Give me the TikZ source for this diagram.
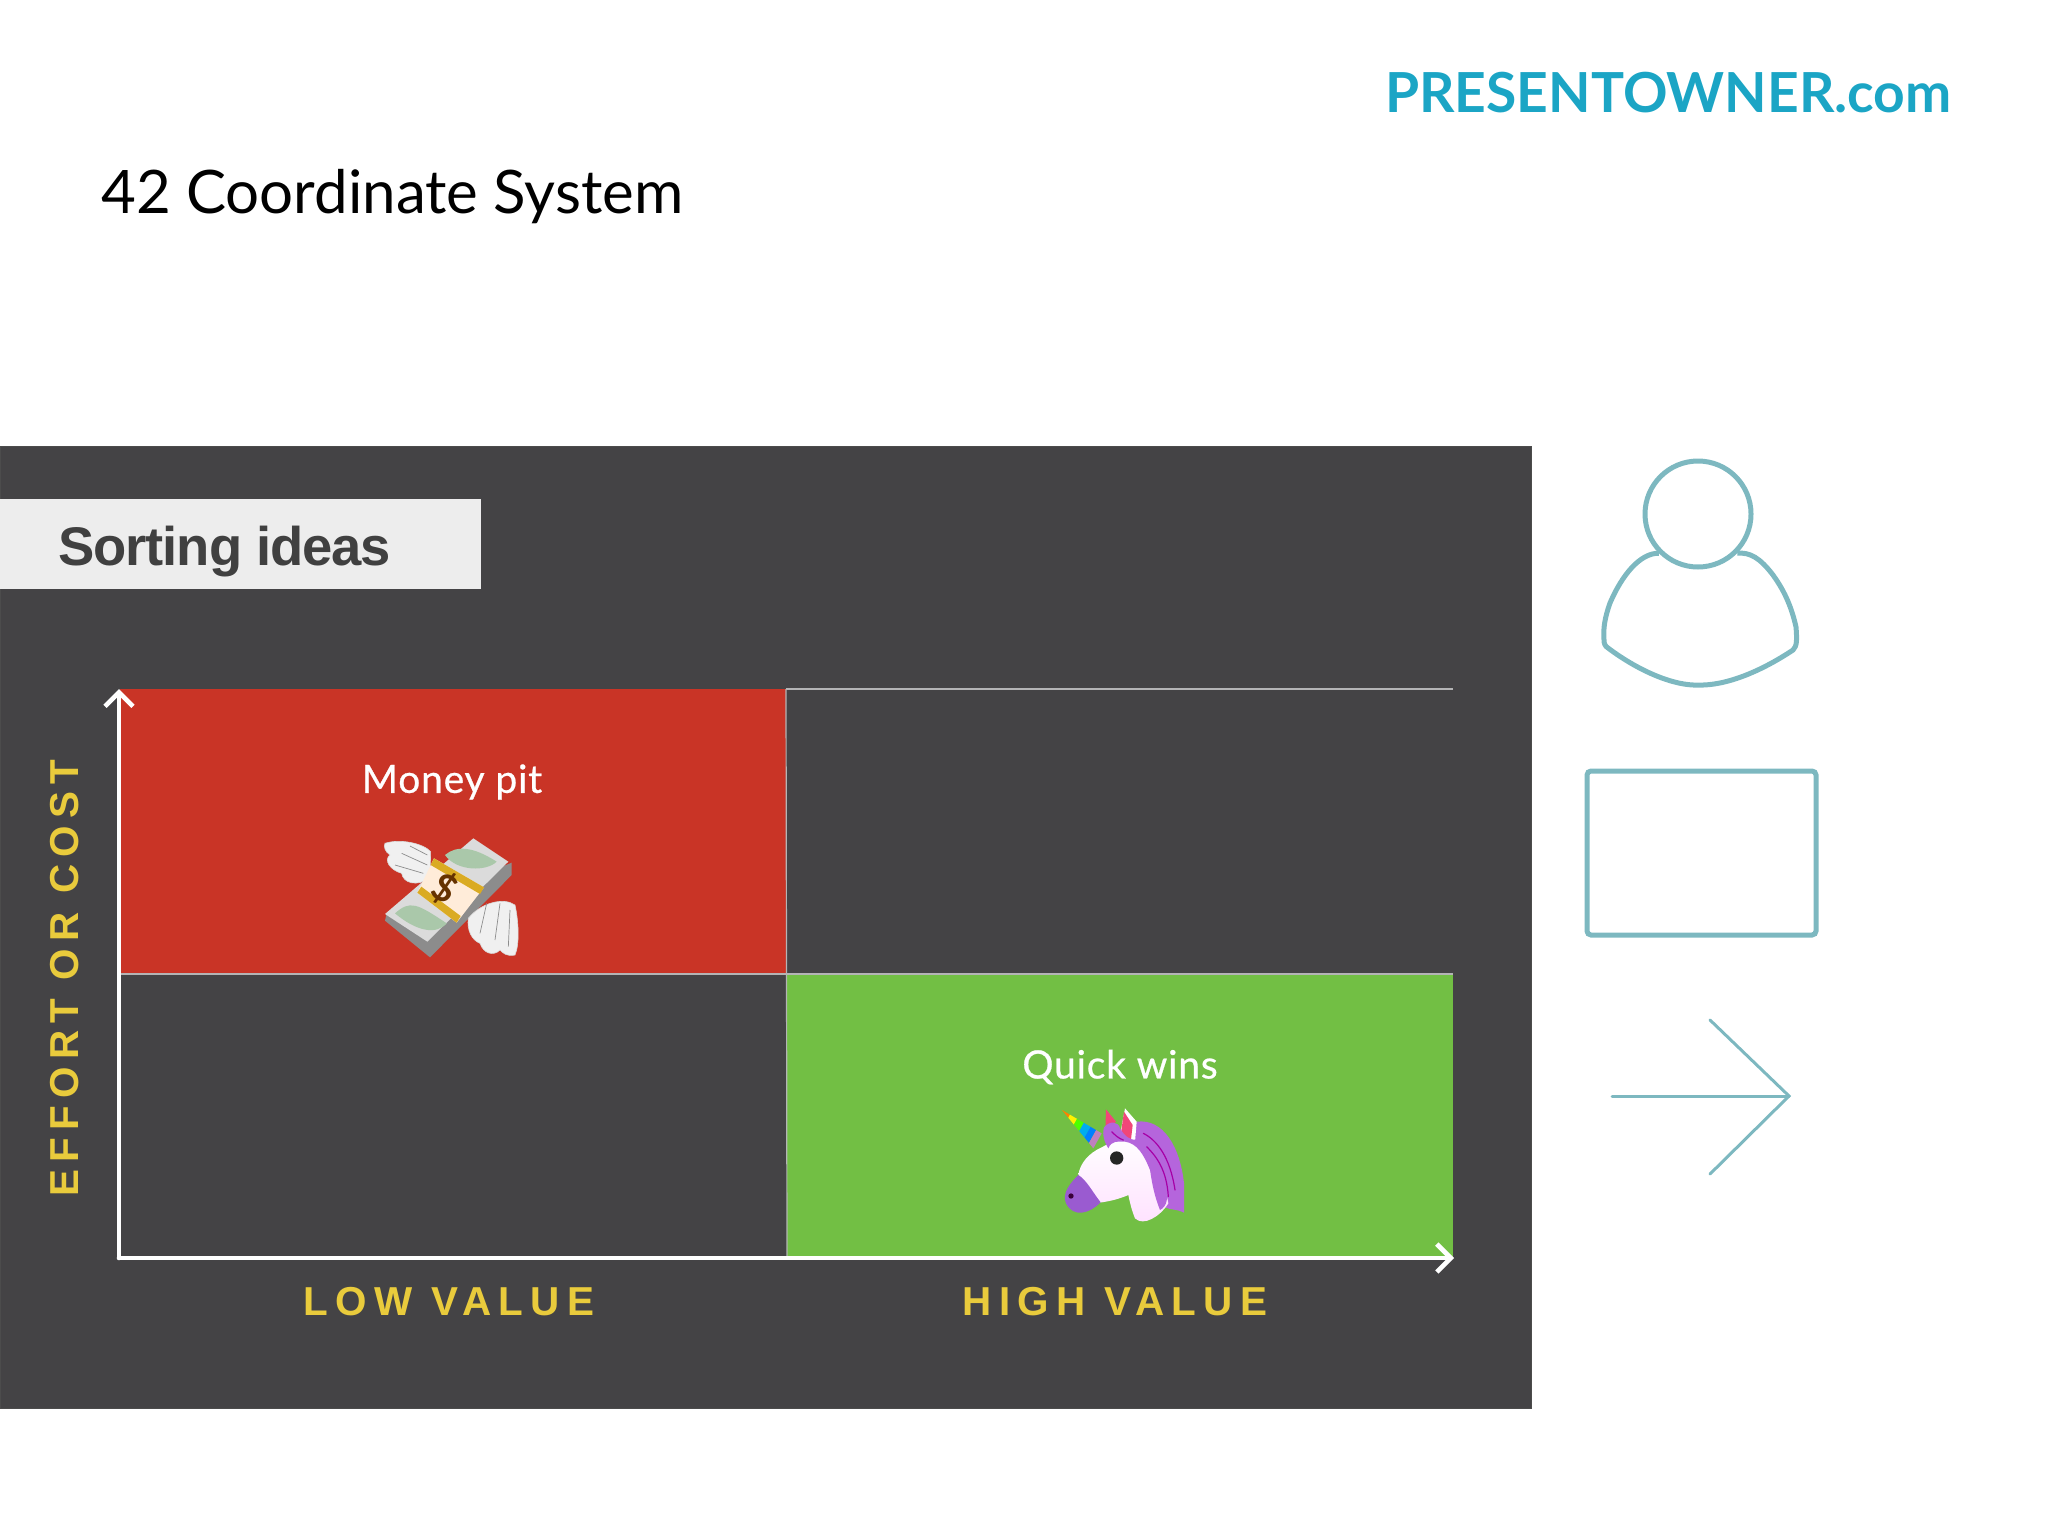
\documentclass[tikz,border=0pt]{standalone}
\usepackage{xcolor}
\usepackage{fontspec}
\usepackage{tikz}
\usetikzlibrary{arrows.meta, positioning, calc}
\setmainfont{Lato}
\newfontfamily\panelfont{Liberation Sans}[LetterSpace=-2]
\newfontfamily\axisfont{Liberation Sans}[LetterSpace=18]
\newfontfamily\cellfont{Lato}[FakeBold=0.6, LetterSpace=2]
\definecolor{panelgray}{HTML}{444345}
\definecolor{cellred}{HTML}{C93426}
\definecolor{cellgreen}{HTML}{72BF44}
\definecolor{axisyellow}{HTML}{E9CB3C}
\definecolor{iconteal}{HTML}{7DB8C0}
\definecolor{brandblue}{HTML}{1BA5C5}
\definecolor{manepurple}{HTML}{B565DC}
\definecolor{snoutpurple}{HTML}{9A5BD0}

\begin{document}
\begin{tikzpicture}[x=0.5pt, y=-0.5pt,
    cell/.style={anchor=north west, minimum width=333pt, inner sep=0pt, outer sep=0pt},
    axislbl/.style={font=\axisfont\bfseries\fontsize{20.2}{22}\selectfont, text=axisyellow},
    celllbl/.style={font=\cellfont\fontsize{19.5}{21}\selectfont, text=white},
    axisline/.style={white, line width=2.3pt, line cap=round, -{Straight Barb[length=7pt, width=14pt, line width=2.3pt]}},
    gridline/.style={line width=0.6pt, draw=white!60!panelgray},
    icon/.style={draw=iconteal, line width=2.5pt},
    thinicon/.style={draw=iconteal, line width=1.5pt, line cap=round},
    wing/.style={fill=white!88!gray, draw=white!70!gray, line width=0.3pt},
    feather/.style={draw=black!45, line width=0.35pt},
    manestreak/.style={draw=violet!70!magenta, line width=0.6pt, line cap=round}]
  \useasboundingbox (0,0) rectangle (2048,1536);
  % page texts
  \node[anchor=east, font=\bfseries\fontsize{27.6}{29}\selectfont, text=brandblue, inner sep=0pt] (brand) at (1952,93) {PRESENTOWNER.com};
  \node[anchor=west, font=\fontsize{30}{33}\selectfont, text=black, inner sep=0pt] (title) at (101,197) {42 Coordinate System};
  % slide
  \node[anchor=north west, fill=panelgray, draw=black!70, line width=0.5pt, minimum width=765.5pt, minimum height=481pt, inner sep=0pt] (slide) at (0,446) {};
  \node[anchor=north west, fill=white!93!black, minimum width=240.5pt, minimum height=45pt, inner sep=0pt] (heading) at (0,499) {};
  \node[anchor=west, font=\panelfont\bfseries\fontsize{27.2}{29}\selectfont, text=black!75, inner sep=0pt] (headingtext) at (58,552) {Sorting ideas};
  \node[cell, fill=cellred, minimum height=142.5pt] (pit) at (120,689) {};
  \node[cell, fill=cellgreen, minimum height=141.5pt] (wins) at (787,974) {};
  \coordinate (origin) at (119,1258);
  \coordinate (ytop) at (119,689);
  \coordinate (xend) at (1454,1258);
  \draw[gridline] (pit.north east) -- (wins.north east |- pit.north);
  \draw[gridline] (pit.south west) -- (wins.north east);
  \draw[gridline] (pit.north east) -- (wins.south west);
  \draw[axisline] (origin) -- (ytop);
  \draw[axisline] (origin) -- (xend);
  \node[axislbl] (low) at (449,1302) {LOW VALUE};
  \node[axislbl] (high) at (1115,1302) {HIGH VALUE};
  \node[axislbl, rotate=90] (effort) at (65,978) {EFFORT OR COST};
  \node[celllbl] (pitlbl) at (452,782) {Money pit};
  \node[celllbl] (winslbl) at (1120,1067) {Quick wins};
  % flying money
  \begin{scope}[shift={(340,740)}, scale=1/3]
    \fill[black!45] (140,520) -- (135,542) -- (270,652) -- (515,405) -- (515,368) -- cycle;
    \fill[white!72!gray] (135,522) -- (262,605) -- (505,365) -- (400,295) -- cycle;
    \fill[green!22!gray!55!white] (315,345) .. controls (350,315) and (400,320) .. (470,365) .. controls (440,395) and (350,395) .. cycle;
    \fill[green!22!gray!55!white] (165,520) .. controls (210,480) and (230,490) .. (320,550) .. controls (290,585) and (230,575) .. cycle;
    \path[wing] (135,310) .. controls (180,295) and (250,310) .. (272,335) -- (270,415) .. controls (230,440) and (190,430) .. (185,400) .. controls (150,390) and (130,360) .. (150,345) .. controls (135,335) and (130,320) .. cycle;
    \path[wing] (385,535) .. controls (420,490) and (490,470) .. (525,495) .. controls (535,540) and (540,610) .. (525,645) .. controls (500,650) and (490,640) .. (480,630) .. controls (460,650) and (430,640) .. (420,610) .. controls (395,600) and (380,570) .. cycle;
    \draw[feather] (185,340) -- (262,375) (165,375) -- (250,400) (210,318) -- (262,345);
    \draw[feather] (440,490) -- (420,580) (480,490) -- (465,600) (510,510) -- (505,620);
    \fill[white!85!orange] (282,355) -- (432,442) -- (350,548) -- (232,458) -- cycle;
    \fill[yellow!50!orange!85!black] (282,355) -- (432,442) -- (420,462) -- (272,375) -- cycle;
    \fill[yellow!50!orange!85!black] (232,458) -- (350,548) -- (362,528) -- (244,440) -- cycle;
    \node[font=\bfseries\fontsize{19}{21}\selectfont, text=black!60!orange, rotate=-30, inner sep=0pt] (dollar) at (315,445) {\$};
  \end{scope}
  % unicorn
  \begin{scope}[shift={(1030,1040)}, scale=1/3]
    \coordinate (horntip) at (96,210);
    \coordinate (hornup) at (215,280);
    \coordinate (horndown) at (190,325);
    \foreach \hue/\from/\to in {orange/0/0.2, yellow/0.2/0.38, green!70!yellow/0.38/0.55, cyan/0.55/0.72, blue!50!cyan/0.72/0.86, violet!50!white/0.86/1} {
      \fill[\hue] ($(horntip)!\from!(hornup)$) -- ($(horntip)!\to!(hornup)$) -- ($(horntip)!\to!(horndown)$) -- ($(horntip)!\from!(horndown)$) -- cycle;
    }
    \fill[manepurple] (320,245) .. controls (400,235) and (450,320) .. (462,430) -- (462,518) .. controls (430,500) and (400,520) .. (380,470) -- (300,310) -- cycle;
    \shade[top color=white, bottom color=white!88!magenta] (215,322) .. controls (280,285) and (330,290) .. (360,380) .. controls (380,420) and (410,450) .. (415,490) .. controls (390,530) and (340,560) .. (315,535) .. controls (305,510) and (300,490) .. (295,465) .. controls (260,480) and (230,485) .. (208,488) -- (145,405) .. controls (150,370) and (175,340) .. cycle;
    \fill[snoutpurple] (145,405) .. controls (170,420) and (190,460) .. (212,487) .. controls (180,520) and (130,535) .. (108,490) .. controls (95,460) and (120,430) .. cycle;
    \fill[white] (285,205) -- (320,245) -- (315,305) -- (268,295) -- cycle;
    \fill[magenta!55!red!75!white] (282,215) -- (308,255) -- (303,298) -- (272,285) -- cycle;
    \fill[magenta!55!red!75!white] (228,208) -- (258,245) -- (226,270) -- cycle;
    \fill[manepurple] (222,262) .. controls (240,240) and (265,245) .. (270,265) .. controls (285,290) and (300,300) .. (320,300) .. controls (350,340) and (400,370) .. (400,440) .. controls (420,470) and (410,500) .. (390,510) .. controls (370,460) and (365,420) .. (360,390) .. controls (340,340) and (320,310) .. (285,305) .. controls (265,305) and (245,300) .. (235,325) .. controls (225,310) and (215,285) .. cycle;
    \draw[manestreak] (340,280) .. controls (380,300) and (420,350) .. (435,450);
    \draw[manestreak] (350,320) .. controls (380,350) and (410,390) .. (415,470);
    \draw[manestreak] (245,275) .. controls (255,285) and (265,295) .. (280,300);
    \fill[black!85] (260,354) circle (20);
    \fill[black!55!violet] (123,468) circle (8);
  \end{scope}
  % icons
  \node[circle, icon, minimum size=53pt, inner sep=0pt] (head) at (1698,514) {};
  \draw[icon, line join=round] (head.south west) .. controls (1640,553) and (1622,575) .. (1610,603) .. controls (1605,617) and (1603,628) .. (1604,640) .. controls (1604,644) and (1605,646) .. (1608,648) .. controls (1640,672) and (1675,686) .. (1698,685) .. controls (1725,686) and (1760,672) .. (1793,650) .. controls (1797,646) and (1797,640) .. (1796,627) .. controls (1790,600) and (1780,585) .. (1773,575) .. controls (1760,558) and (1750,552) .. (head.south east);
  \node[anchor=north west, icon, rounded corners=2pt, minimum width=114.5pt, minimum height=82pt, inner sep=0pt] (frame) at (1584.5,768.5) {};
  \coordinate (shaftstart) at (1612,1096);
  \coordinate (arrowtip) at (1789,1096);
  \coordinate (barbtop) at (1710,1020);
  \coordinate (barbbottom) at (1710,1174);
  \draw[thinicon] (shaftstart) -- (arrowtip);
  \draw[thinicon] (barbtop) -- (arrowtip) -- (barbbottom);
\end{tikzpicture}
\end{document}
